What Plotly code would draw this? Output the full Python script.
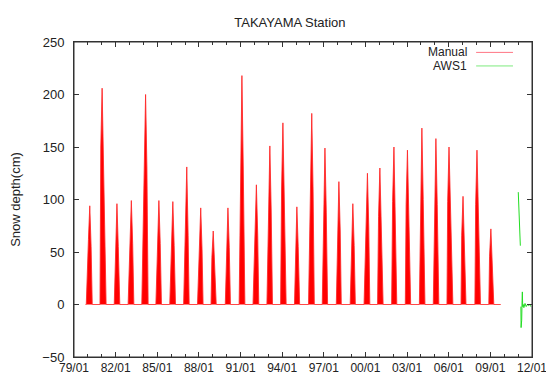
import plotly.graph_objects as go

# ---------------- data ----------------
record_start = "1979-11-01"
record_end = "2009-10-01"

season_start = ["1979-11-20", "1980-11-15", "1981-11-25", "1982-11-25", "1983-11-20",
                "1984-11-25", "1985-11-25", "1986-11-25", "1987-11-25", "1988-11-15",
                "1989-11-25", "1990-11-25", "1991-11-25", "1992-11-25", "1993-11-20",
                "1994-11-20", "1995-11-25", "1996-11-20", "1997-11-25", "1998-11-25",
                "1999-11-25", "2000-11-15", "2001-11-20", "2002-11-15", "2003-11-20",
                "2004-11-20", "2005-11-15", "2006-11-20", "2007-11-20", "2008-11-20"]

rise_dates = ["1980-01-16", "1980-12-06", "1981-12-31", "1983-01-14", "1984-01-24",
              "1985-01-08", "1986-01-10", "1987-01-12", "1988-01-14", "1988-12-08",
              "1989-12-30", "1991-01-02", "1992-01-18", "1993-01-06", "1993-12-16",
              "1994-12-18", "1996-01-14", "1996-12-26", "1997-12-28", "1998-12-30",
              "2000-01-18", "2000-12-11", "2001-12-16", "2002-12-06", "2003-12-21",
              "2004-12-24", "2005-12-04", "2006-12-08", "2007-12-10", "2008-12-10"]

peak_dates = ["1980-02-20", "1981-01-10", "1982-02-04", "1983-02-18", "1984-02-28",
              "1985-02-12", "1986-02-14", "1987-02-16", "1988-02-18", "1989-01-12",
              "1990-02-03", "1991-02-06", "1992-02-22", "1993-02-10", "1994-01-20",
              "1995-01-22", "1996-02-18", "1997-01-30", "1998-02-01", "1999-02-03",
              "2000-02-22", "2001-01-15", "2002-01-20", "2003-01-10", "2004-01-25",
              "2005-01-28", "2006-01-08", "2007-01-12", "2008-01-14", "2009-01-14"]

fall_dates = ["1980-03-26", "1981-02-14", "1982-03-11", "1983-03-25", "1984-04-03",
              "1985-03-19", "1986-03-21", "1987-03-23", "1988-03-24", "1989-02-16",
              "1990-03-10", "1991-03-13", "1992-03-28", "1993-03-17", "1994-02-24",
              "1995-02-26", "1996-03-24", "1997-03-06", "1998-03-08", "1999-03-10",
              "2000-03-28", "2001-02-19", "2002-02-24", "2003-02-14", "2004-02-29",
              "2005-03-04", "2006-02-12", "2007-02-16", "2008-02-18", "2009-02-18"]

season_end = ["1980-04-25", "1981-04-25", "1982-04-20", "1983-04-25", "1984-05-05",
              "1985-04-20", "1986-04-25", "1987-04-20", "1988-04-20", "1989-04-01",
              "1990-04-10", "1991-04-25", "1992-04-25", "1993-04-20", "1994-04-15",
              "1995-04-05", "1996-04-25", "1997-04-10", "1998-04-05", "1999-04-10",
              "2000-04-25", "2001-04-10", "2002-04-05", "2003-04-05", "2004-04-15",
              "2005-04-15", "2006-04-20", "2007-03-31", "2008-04-15", "2009-04-01"]

peak_values = [94, 206, 96, 99, 200, 99, 98, 131, 92, 70,
               92, 218, 114, 151, 173, 93, 182, 149, 117, 96,
               125, 130, 150, 147, 168, 158, 150, 103, 147, 72]

rise_values = [62, 150, 60, 62, 135, 62, 60, 70, 58, 45,
               58, 140, 72, 98, 110, 60, 118, 95, 75, 62,
               80, 84, 98, 95, 108, 102, 98, 66, 95, 46]

fall_values = [55, 140, 55, 58, 130, 58, 56, 66, 52, 40,
               54, 130, 66, 90, 100, 55, 108, 88, 70, 56,
               74, 78, 90, 88, 100, 95, 92, 60, 88, 42]

aws_dates = ["2011-01-05", "2011-01-12", "2011-01-20", "2011-01-28", "2011-02-05",
             "2011-02-12", "2011-02-20", "2011-02-28", "2011-03-05",
             "2011-03-15", "2011-03-20", "2011-03-28", "2011-04-05", "2011-04-15",
             "2011-04-22", "2011-05-01", "2011-05-15", "2011-06-01", "2011-07-01",
             "2011-08-01", "2011-09-01", "2011-10-01", "2011-11-01", "2011-12-01"]
aws_values = [107, 100, 92, 85, 78, 70, 62, 56, None,
              -2, -22, -8, -15, 4, 12, -2, 0, -3, 1, -2, 0, -1, 0, -2]

y_ticks = [-50, 0, 50, 100, 150, 200, 250]

# ---------------- build manual series ----------------
manual_x = [record_start]
manual_y = [0]
for s, r, p, f, e, rv, pv, fv in zip(season_start, rise_dates, peak_dates, fall_dates,
                                      season_end, rise_values, peak_values, fall_values):
    manual_x += [s, r, p, f, e]
    manual_y += [0, rv, pv, fv, 0]
manual_x.append(record_end)
manual_y.append(0)

font_family = "Liberation Sans, Arial, Helvetica, sans-serif"
text_color = "#222222"
axis_color = "#333333"

fig = go.Figure()
fig.add_trace(go.Scatter(
    x=manual_x, y=manual_y, mode="lines", name="Manual",
    fill="tozeroy", fillcolor="#ff0000",
    line=dict(color="rgba(255,40,40,0.85)", width=1),
    showlegend=False, hoverinfo="x+y"))
fig.add_trace(go.Scatter(
    x=aws_dates, y=aws_values, mode="lines", name="AWS1",
    line=dict(color="#22dd22", width=1), connectgaps=False,
    showlegend=False))

# legend in gnuplot style (text then line sample)
legend_items = [("Manual", "rgba(255,60,80,0.7)", 0.967), ("AWS1", "rgba(40,220,40,0.6)", 0.924)]
for label, col, yy in legend_items:
    fig.add_annotation(x=0.860, y=yy, xref="paper", yref="paper", text=label,
                       showarrow=False, xanchor="right", yanchor="middle", borderpad=0,
                       font=dict(size=12, color=text_color, family=font_family))
    fig.add_shape(type="line", xref="paper", yref="paper", x0=0.878, x1=0.9585,
                  y0=yy, y1=yy, line=dict(color=col, width=1))

# plot frame (gnuplot border)
fig.add_shape(type="rect", xref="paper", yref="paper", x0=0, x1=1, y0=0, y1=1,
              line=dict(color=axis_color, width=1), fillcolor="rgba(0,0,0,0)", layer="above")

fig.update_layout(
    width=546, height=376,
    margin=dict(l=74, r=14, t=42, b=19, autoexpand=False),
    paper_bgcolor="white", plot_bgcolor="white",
    font=dict(family=font_family, size=13, color=text_color),
    title=dict(text="TAKAYAMA Station", x=0.531, xref="container", xanchor="center",
               y=0.939, yref="container", yanchor="middle",
               font=dict(size=13, color=text_color, family=font_family)),
    showlegend=False,
    xaxis=dict(
        type="date", range=["1979-01-01", "2012-01-01"],
        tick0="1979-01-01", dtick="M36", tickformat="%y/%m",
        ticks="inside", ticklen=5, tickcolor=axis_color,
        minor=dict(dtick="M12", ticks="inside", ticklen=3, tickcolor=axis_color, showgrid=False),
        showline=True, linecolor=axis_color, linewidth=1, mirror="ticks",
        showgrid=False, zeroline=False, ticklabelstandoff=0, automargin=False,
        ticklabeloverflow="allow",
        tickfont=dict(size=12, color=text_color)),
    yaxis=dict(
        range=[-50, 250], tickvals=y_ticks,
        ticks="inside", ticklen=5, tickcolor=axis_color,
        showline=True, linecolor=axis_color, linewidth=1, mirror="ticks",
        showgrid=False, zeroline=False, ticklabelstandoff=6, automargin=False,
        tickfont=dict(size=13, color=text_color),
        title=dict(text="Snow depth(cm)", standoff=18,
                   font=dict(size=13, color=text_color))),
)

fig.write_html("out.html", config={"displayModeBar": False},
               post_script="document.body.style.margin='0px';")
